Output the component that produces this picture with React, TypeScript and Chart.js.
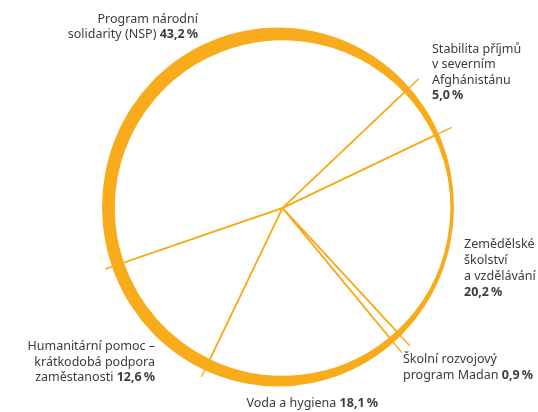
import React, { useEffect, useRef } from "react";
import { Chart, registerables } from "chart.js";

Chart.register(...registerables);

const categories = [
  "Program národní solidarity (NSP)",
  "Stabilita příjmů v severním Afghánistánu",
  "Zemědělské školství a vzdělávání",
  "Školní rozvojový program Madan",
  "Voda a hygiena",
  "Humanitární pomoc – krátkodobá podpora zaměstanosti",
];
const shares = [43.2, 5.0, 20.2, 0.9, 18.1, 12.6];
const shareLabels = ["43,2\u202F%", "5,0\u202F%", "20,2\u202F%", "0,9\u202F%", "18,1\u202F%", "12,6\u202F%"];
const labelLines: string[][] = [
  ["Program národní", "solidarity (NSP)"],
  ["Stabilita příjmů", "v severním", "Afghánistánu", ""],
  ["Zemědělské", "školství", "a vzdělávání", ""],
  ["Školní rozvojový", "program Madan"],
  ["Voda a hygiena"],
  ["Humanitární pomoc –", "krátkodobá podpora", "zaměstanosti"],
];

const ORANGE = "#F8AC1C";
const TEXT = "#3c3c3c";
const FONT = '"Noto Sans", sans-serif';
const FS = 12.5;

const labelLayout = [
  { x: 198, y: 22.5, align: "right", lh: 15.6 },
  { x: 432, y: 52.5, align: "left", lh: 15.6 },
  { x: 464, y: 248, align: "left", lh: 16 },
  { x: 403, y: 363, align: "left", lh: 16 },
  { x: 246.5, y: 407, align: "left", lh: 15 },
  { x: 155, y: 350, align: "right", lh: 15.5 },
];

const decorPlugin = {
  id: "decor",
  afterDatasetsDraw(chart: any) {
    const ctx = chart.ctx as CanvasRenderingContext2D;
    const meta = chart.getDatasetMeta(0);
    if (!meta.data.length) return;
    const a0: any = meta.data[0];
    const cx = a0.x, cy = a0.y, r = a0.outerRadius;
    ctx.save();
    // outer crescent ring (thick left/top/bottom, thin right)
    ctx.beginPath();
    ctx.ellipse(cx - 4.5, cy - 1, r + 7.5, r + 11, 0, 0, Math.PI * 2);
    ctx.moveTo(cx + r, cy);
    ctx.arc(cx, cy, r, 0, Math.PI * 2, true);
    ctx.fillStyle = ORANGE;
    ctx.fill("evenodd");
    // radial leader lines
    ctx.strokeStyle = ORANGE;
    ctx.lineWidth = 1.5;
    const L = r + 19;
    meta.data.forEach((arc: any) => {
      const a = arc.startAngle;
      ctx.beginPath();
      ctx.moveTo(cx, cy);
      ctx.lineTo(cx + L * Math.cos(a), cy + L * Math.sin(a));
      ctx.stroke();
    });
    // labels
    ctx.fillStyle = TEXT;
    ctx.textBaseline = "alphabetic";
    ctx.textAlign = "left";
    const normal = `${FS}px ${FONT}`;
    const bold = `bold ${FS}px ${FONT}`;
    labelLines.forEach((lines, i) => {
      const lay = labelLayout[i];
      lines.forEach((line, j) => {
        const last = j === lines.length - 1;
        const segs: { t: string; f: string }[] = [];
        if (line) segs.push({ t: last ? line + " " : line, f: normal });
        if (last) segs.push({ t: shareLabels[i], f: bold });
        let w = 0;
        segs.forEach((s) => {
          ctx.font = s.f;
          w += ctx.measureText(s.t).width;
        });
        let x = lay.align === "right" ? lay.x - w : lay.x;
        const y = lay.y + j * lay.lh;
        segs.forEach((s) => {
          ctx.font = s.f;
          ctx.fillText(s.t, x, y);
          x += ctx.measureText(s.t).width;
        });
      });
    });
    ctx.restore();
  },
};

export default function App() {
  const ref = useRef<HTMLCanvasElement | null>(null);
  useEffect(() => {
    if (!ref.current) return;
    const chart = new Chart(ref.current, {
      type: "pie",
      data: {
        labels: categories,
        datasets: [
          {
            data: shares,
            backgroundColor: "#ffffff",
            borderColor: ORANGE,
            borderWidth: 1.5,
            radius: 168.5,
            hoverOffset: 0,
          } as any,
        ],
      },
      options: {
        responsive: false,
        animation: false,
        devicePixelRatio: 1,
        rotation: 251,
        layout: { padding: { left: 27, right: 0, top: 4, bottom: 0 } },
        plugins: { legend: { display: false }, tooltip: { enabled: false } },
      } as any,
      plugins: [decorPlugin],
    });
    return () => chart.destroy();
  }, []);
  return (
    <div style={{ position: "fixed", left: 0, top: 0, width: 538, height: 412, background: "#fff" }}>
      <canvas ref={ref} width={538} height={412} />
    </div>
  );
}
